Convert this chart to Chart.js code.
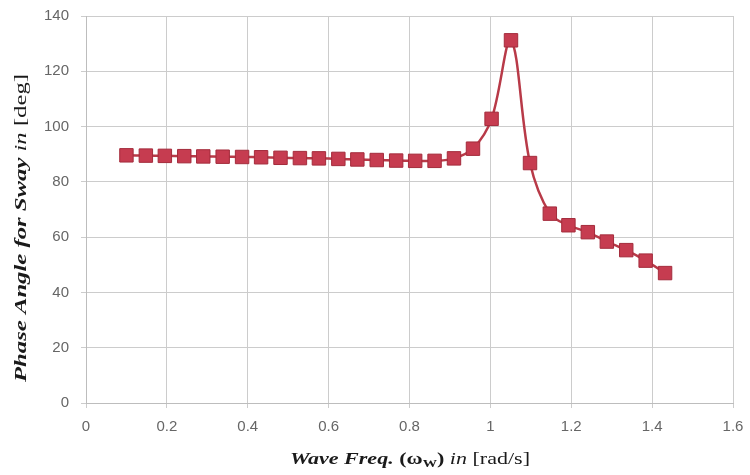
<!DOCTYPE html>
<html>
<head>
<meta charset="utf-8">
<script src="https://cdn.jsdelivr.net/npm/chart.js@4.4.1/dist/chart.umd.min.js"></script>
<style>
  html, body { margin: 0; padding: 0; background: #fff; }
  #wrap { width: 750px; height: 475px; }
</style>
</head>
<body>
<div id="wrap"><canvas id="myChart" width="750" height="475"></canvas></div>
<script>
// wave frequency [rad/s] and sway phase angle [deg]
const waveFreq = [
  0.100, 0.148, 0.195, 0.243, 0.290, 0.338, 0.386, 0.433, 0.481, 0.529,
  0.576, 0.624, 0.671, 0.719, 0.767, 0.814, 0.862, 0.910, 0.957, 1.003,
  1.051, 1.098, 1.147, 1.193, 1.241, 1.288, 1.336, 1.384, 1.432
];
const phaseSway = [
  89.6, 89.5, 89.4, 89.3, 89.2, 89.1, 89.0, 88.9, 88.7, 88.6,
  88.5, 88.3, 88.1, 87.9, 87.7, 87.6, 87.6, 88.5, 92.0, 102.8,
  131.2, 86.8, 68.5, 64.3, 61.8, 58.4, 55.3, 51.5, 47.0
];
const xTicks = [0, 0.2, 0.4, 0.6, 0.8, 1, 1.2, 1.4, 1.6];
const yTicks = [0, 20, 40, 60, 80, 100, 120, 140];

const points = waveFreq.map((x, i) => ({ x: x, y: phaseSway[i] }));

const serif = "'Liberation Serif', 'DejaVu Serif', serif";

// axis titles mix bold/italic/regular runs, so draw them by hand;
// the runs are stretched sideways to span `width`
function drawRuns(ctx, runs, cx, cy, width) {
  let total = 0;
  runs.forEach(r => {
    ctx.font = r.font;
    r.w = ctx.measureText(r.text).width;
    total += r.w;
  });
  const sx = width / total;
  ctx.save();
  ctx.translate(cx - width / 2, cy);
  ctx.scale(sx, 1);
  let x = 0;
  runs.forEach(r => {
    ctx.font = r.font;
    ctx.fillText(r.text, x, r.dy || 0);
    x += r.w;
  });
  ctx.restore();
}

const axisTitles = {
  id: "axisTitles",
  afterDraw(chart) {
    const ctx = chart.ctx;
    ctx.save();
    ctx.fillStyle = "#1a1a1a";
    ctx.textBaseline = "alphabetic";
    ctx.textAlign = "left";

    drawRuns(ctx, [
      { text: "Wave Freq. ", font: "bold italic 17px " + serif },
      { text: "(\u03c9", font: "bold 17px " + serif },
      { text: "W", font: "bold 11px " + serif, dy: 3 },
      { text: ") ", font: "bold 17px " + serif },
      { text: "in ", font: "italic 17px " + serif },
      { text: "[rad/s]", font: "17px " + serif }
    ], 410, 464, 240);

    ctx.translate(26, 228);
    ctx.rotate(-Math.PI / 2);
    drawRuns(ctx, [
      { text: "Phase Angle for Sway ", font: "bold italic 17px " + serif },
      { text: "in ", font: "italic 17px " + serif },
      { text: "[deg]", font: "17px " + serif }
    ], 0, 0, 308);
    ctx.restore();
  }
};

new Chart(document.getElementById("myChart"), {
  type: "line",
  data: {
    datasets: [{
      data: points,
      borderColor: "#b83a48",
      borderWidth: 2.5,
      tension: 0.35,
      pointStyle: "rect",
      pointRadius: 9.5,
      pointBackgroundColor: "#c63c50",
      pointBorderColor: "#a42c3c",
      pointBorderWidth: 1
    }]
  },
  options: {
    responsive: false,
    animation: false,
    layout: { padding: { left: 0, right: 17, top: 16, bottom: 0 } },
    plugins: {
      legend: { display: false },
      tooltip: { enabled: false }
    },
    scales: {
      x: {
        type: "linear",
        min: 0,
        max: 1.6,
        afterBuildTicks: (scale) => { scale.ticks = xTicks.map(v => ({ value: v })); },
        afterFit: (scale) => {
          scale.height = 72;
          scale.paddingLeft = 0;
          scale.paddingRight = 0;
        },
        ticks: {
          color: "#666666",
          font: { family: "'Liberation Sans', sans-serif", size: 15 },
          padding: 10,
          callback: (v) => String(v)
        },
        grid: { color: "#cccccc", lineWidth: 1, tickLength: 5 },
        border: { color: "#bdbdbd" }
      },
      y: {
        min: 0,
        max: 140,
        afterBuildTicks: (scale) => { scale.ticks = yTicks.map(v => ({ value: v })); },
        afterFit: (scale) => {
          scale.width = 86;
          scale.paddingTop = 0;
          scale.paddingBottom = 0;
        },
        ticks: {
          color: "#666666",
          font: { family: "'Liberation Sans', sans-serif", size: 15 },
          padding: 12
        },
        grid: { color: "#cccccc", lineWidth: 1, tickLength: 5 },
        border: { color: "#bdbdbd" }
      }
    }
  },
  plugins: [axisTitles]
});
</script>
</body>
</html>
